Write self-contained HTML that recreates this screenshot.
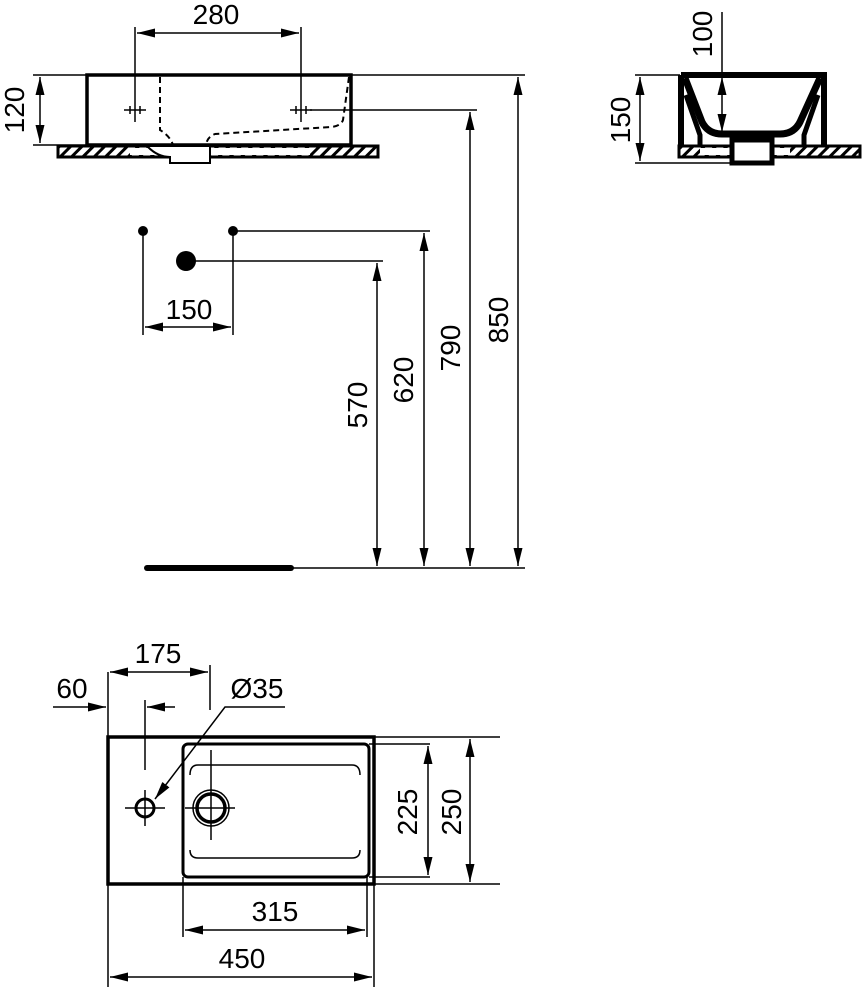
<!DOCTYPE html><html><head><style>body{margin:0;background:#fff}svg{display:block}text{font-family:"Liberation Sans",sans-serif;font-size:28px;fill:#000}</style></head><body>
<svg width="863" height="987" viewBox="0 0 863 987" xmlns="http://www.w3.org/2000/svg">
<defs>
<marker id="a" viewBox="0 0 20 10" refX="20" refY="5" markerWidth="18" markerHeight="9" markerUnits="userSpaceOnUse" orient="auto-start-reverse"><path d="M0,0L20,5L0,10z"/></marker>
<pattern id="h" width="8" height="8" patternUnits="userSpaceOnUse" patternTransform="rotate(45)"><rect width="8" height="8" fill="#fff"/><rect width="3" height="8" fill="#000"/></pattern>
</defs>
<g stroke="#000" fill="none" stroke-width="1.5">
<!-- front view -->
<line x1="33" y1="75" x2="525" y2="75"/>
<line x1="33" y1="145" x2="86" y2="145"/>
<line x1="40" y1="77" x2="40" y2="143" marker-start="url(#a)" marker-end="url(#a)"/>
<rect x="58" y="146" width="320" height="11" fill="url(#h)" stroke-width="3"/>
<rect x="130" y="148" width="180" height="7" fill="#fff" stroke="none"/>
<path d="M87,145 L87,75 L351,75 L351,145 Z" fill="#fff" stroke-width="3.5"/>
<path d="M148,147 q10,10 22,10 L170,163 L210,163 L210,147" fill="#fff" stroke-width="2"/>
<path d="M160,77 L160,130 q10,6 13,15 M349,77 L343,120 q-2,6 -12,7 L215,134 q-8,3 -9,11" stroke-dasharray="6,4" stroke-width="2"/>
<line x1="135" y1="27" x2="135" y2="122"/><line x1="301" y1="27" x2="301" y2="122"/>
<line x1="137" y1="33" x2="299" y2="33" marker-start="url(#a)" marker-end="url(#a)"/>
<path d="M124,110h22M290,110h22M130,106v8M140,106v8M296,106v8M306,106v8"/>
<line x1="310" y1="110" x2="477" y2="110"/>
<!-- supply points -->
<circle cx="143" cy="231" r="5" fill="#000" stroke="none"/>
<circle cx="233" cy="231" r="5" fill="#000" stroke="none"/>
<circle cx="186" cy="261" r="10" fill="#000" stroke="none"/>
<line x1="143" y1="231" x2="143" y2="335"/><line x1="233" y1="231" x2="233" y2="335"/>
<line x1="145" y1="327" x2="231" y2="327" marker-start="url(#a)" marker-end="url(#a)"/>
<line x1="233" y1="231" x2="430" y2="231"/><line x1="186" y1="261" x2="383" y2="261"/>
<line x1="377" y1="263" x2="377" y2="566" marker-start="url(#a)" marker-end="url(#a)"/>
<line x1="424" y1="233" x2="424" y2="566" marker-start="url(#a)" marker-end="url(#a)"/>
<line x1="470" y1="112" x2="470" y2="566" marker-start="url(#a)" marker-end="url(#a)"/>
<line x1="518" y1="77" x2="518" y2="566" marker-start="url(#a)" marker-end="url(#a)"/>
<line x1="145" y1="568" x2="525" y2="568"/>
<line x1="147" y1="568" x2="291" y2="568" stroke-width="6" stroke-linecap="round"/>
<!-- side view -->
<line x1="635" y1="75" x2="680" y2="75"/><line x1="635" y1="163" x2="740" y2="163"/>
<line x1="640" y1="77" x2="640" y2="161" marker-start="url(#a)" marker-end="url(#a)"/>
<rect x="679" y="146" width="181" height="11" fill="url(#h)" stroke-width="3"/>
<rect x="700" y="148" width="90" height="7" fill="#fff" stroke="none"/>
<path d="M681,75 L824,75 L824,146 M681,75 L681,146" stroke-width="6"/>
<path d="M685,78 L702,122 q6,12 20,12 L780,134 q14,0 20,-12 L820,78" stroke-width="7"/>
<path d="M686,95 L700,135 L700,146 M818,95 L804,135 L804,146" stroke-width="5"/>
<rect x="732" y="140" width="40" height="23" fill="#fff" stroke-width="5"/>
<line x1="722" y1="12" x2="722" y2="75"/>
<line x1="722" y1="77" x2="722" y2="132" marker-start="url(#a)" marker-end="url(#a)"/>
<!-- plan view -->
<rect x="108" y="737" width="266" height="147" stroke-width="3.5"/>
<rect x="183" y="744" width="186" height="133" rx="5" stroke-width="3"/>
<path d="M190,775 q0,-10 8,-10 L352,765 q8,0 8,10 M190,850 q0,8 8,8 L352,858 q8,0 8,-8"/>
<circle cx="145" cy="808" r="9" stroke-width="3"/>
<circle cx="211" cy="808" r="18"/><circle cx="211" cy="808" r="14" stroke-width="3.5"/>
<path d="M125,808h40M145,700v70M145,790v36M185,808h50M211,750v90"/>
<line x1="108" y1="672" x2="108" y2="737"/><line x1="210" y1="665" x2="210" y2="710"/>
<line x1="110" y1="672" x2="208" y2="672" marker-start="url(#a)" marker-end="url(#a)"/>
<line x1="53" y1="707" x2="106" y2="707" marker-end="url(#a)"/>
<line x1="175" y1="707" x2="147" y2="707" marker-end="url(#a)"/>
<path d="M285,707 L225,707 L155,799" marker-end="url(#a)"/>
<line x1="374" y1="737" x2="500" y2="737"/><line x1="369" y1="744" x2="430" y2="744"/>
<line x1="369" y1="877" x2="430" y2="877"/><line x1="374" y1="884" x2="500" y2="884"/>
<line x1="428" y1="746" x2="428" y2="875" marker-start="url(#a)" marker-end="url(#a)"/>
<line x1="470" y1="739" x2="470" y2="882" marker-start="url(#a)" marker-end="url(#a)"/>
<line x1="108" y1="884" x2="108" y2="987"/><line x1="183" y1="877" x2="183" y2="937"/>
<line x1="367" y1="877" x2="367" y2="937"/><line x1="374" y1="884" x2="374" y2="987"/>
<line x1="185" y1="930" x2="365" y2="930" marker-start="url(#a)" marker-end="url(#a)"/>
<line x1="110" y1="977" x2="372" y2="977" marker-start="url(#a)" marker-end="url(#a)"/>
</g>
<text x="216" y="24" text-anchor="middle">280</text>
<text transform="translate(24,110) rotate(-90)" text-anchor="middle">120</text>
<text x="189" y="319" text-anchor="middle">150</text>
<text transform="translate(367,405) rotate(-90)" text-anchor="middle">570</text>
<text transform="translate(413,380) rotate(-90)" text-anchor="middle">620</text>
<text transform="translate(460,348) rotate(-90)" text-anchor="middle">790</text>
<text transform="translate(508,320) rotate(-90)" text-anchor="middle">850</text>
<text transform="translate(630,120) rotate(-90)" text-anchor="middle">150</text>
<text transform="translate(712,34) rotate(-90)" text-anchor="middle">100</text>
<text x="158" y="663" text-anchor="middle">175</text>
<text x="72" y="698" text-anchor="middle">60</text>
<text x="257" y="698" text-anchor="middle">Ø35</text>
<text transform="translate(417,812) rotate(-90)" text-anchor="middle">225</text>
<text transform="translate(461,812) rotate(-90)" text-anchor="middle">250</text>
<text x="275" y="921" text-anchor="middle">315</text>
<text x="242" y="968" text-anchor="middle">450</text>
</svg></body></html>
